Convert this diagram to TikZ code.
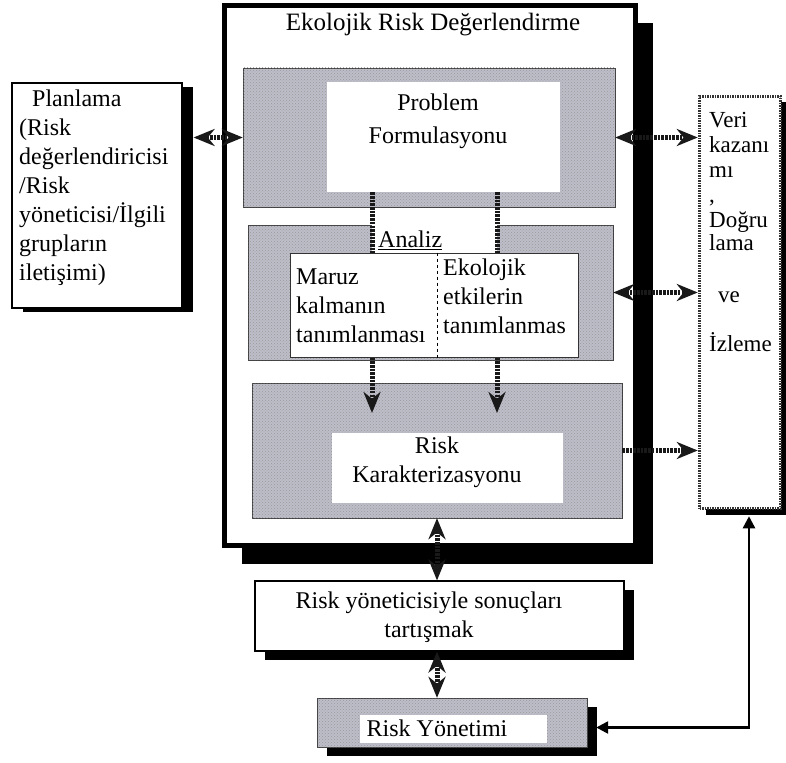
\documentclass[tikz,border=0pt]{standalone}
\usepackage{fontspec}
\setmainfont{Liberation Serif}
\usetikzlibrary{arrows.meta,shadows,patterns}
\definecolor{boxgray}{RGB}{190,190,202}
\begin{document}
\begin{tikzpicture}[x=1pt,y=-1pt,font=\fontsize{24}{29}\selectfont]
\tikzstyle{panel}=[draw=black!75,fill=boxgray,postaction={pattern=crosshatch dots,pattern color=black!40}]
\tikzstyle{hole}=[fill=white,inner sep=0pt]
\tikzstyle{card}=[draw=black,fill=white,line width=1.2pt,inner sep=0pt]
\tikzstyle{shadowS}=[drop shadow={shadow xshift=10pt,shadow yshift=-9pt,opacity=1,fill=black}]
\tikzstyle{shadowP}=[drop shadow={shadow xshift=11pt,shadow yshift=-4pt,opacity=1,fill=black}]
\tikzstyle{shadowL}=[drop shadow={shadow xshift=17pt,shadow yshift=-18pt,opacity=1,fill=black}]
\tikzstyle{shadowV}=[drop shadow={shadow xshift=6pt,shadow yshift=-6pt,opacity=1,fill=black}]
\tikzstyle{hatch}=[line width=5pt,black!90,dash pattern=on 2.6pt off 1.1pt]
\tikzstyle{both}=[{Stealth[length=21pt,width=17pt]}-{Stealth[length=21pt,width=17pt]}]
\tikzstyle{ahead}=[-{Stealth[length=21pt,width=17pt]}]
\tikzstyle{link}=[line width=2.5pt,black,{Triangle[length=12pt,width=12pt]}-{Triangle[length=12pt,width=12pt]}]
\tikzstyle{lines}=[align=left,anchor=north west,inner sep=0pt]

\useasboundingbox (0,0) rectangle (786,762);

\node[card,shadowL,line width=5pt,minimum width=411,minimum height=540] (erd) at (430,275.5) {};
\node (title) at (433,25) {\fontsize{25}{29}\selectfont Ekolojik Risk Değerlendirme};

\node[panel,minimum width=372,minimum height=139] (probG) at (429,137.5) {};
\node[hole,minimum width=233,minimum height=110] (prob) at (443.5,137) {};
\node[align=center] (probT) at (438,121) {Problem\\[4pt]Formulasyonu};

\node[panel,minimum width=365,minimum height=135] (anaG) at (430.5,292.5) {};
\node[hole,minimum width=125,minimum height=28,anchor=north west] (anaP) at (372,225) {};
\node[anchor=west,inner sep=0pt] (anaL) at (378,240) {\underline{Analiz}};
\node[hole,draw=black!80,line width=1pt,minimum width=288,minimum height=104] (anaW) at (434,305) {};
\node[lines] (maruz) at (296,269) {Maruz\\kalmanın\\tanımlanması};
\node[lines] (etki) at (443,259) {Ekolojik\\etkilerin\\tanımlanmas};
\coordinate (div) at (437,0);
\draw[dashed,line width=1pt] (anaW.north -| div) -- (anaW.south -| div);

\node[panel,minimum width=370,minimum height=135] (rkG) at (437,450.5) {};
\node[hole,minimum width=231,minimum height=70] (rk) at (447.5,468) {};
\node[align=center] (rkT) at (437,462) {Risk\\Karakterizasyonu};

\node[card,shadowP,minimum width=170,minimum height=225] (plan) at (97,195.5) {};
\node[lines] (planT) at (19,90) {\hspace{13pt}Planlama\\(Risk\\değerlendiricisi\\/Risk\\yöneticisi/İlgili\\grupların\\iletişimi)};

\node[draw=black!80,fill=white,line width=3.5pt,dash pattern=on 1.5pt off 1pt,shadowV,minimum width=81,minimum height=412] (veri) at (740,302.5) {};
\node[lines,font=\fontsize{23}{25}\selectfont] (veriT) at (709,112) {Veri\\kazanı\\mı\\,\\Doğru\\[-2pt]lama\\[27pt]\hspace{9pt}ve\\[24pt]İzleme};

\node[card,shadowS,minimum width=369,minimum height=70] (ryb) at (439.5,616) {};
\node[align=center] (rybT) at (429,617) {Risk yöneticisiyle sonuçları\\tartışmak};

\node[panel,shadowS,minimum width=270,minimum height=49] (ryG) at (452,722.5) {};
\node[hole,minimum width=187,minimum height=28] (ry) at (453.5,729) {};
\node (ryT) at (437,728) {Risk Yönetimi};

\coordinate (planS) at ([xshift=11pt]plan.east);
\coordinate (lx) at (372,0);
\coordinate (rx) at (497,0);
\coordinate (endy) at (0,413);
\coordinate (veriS) at ([xshift=9pt,yshift=-6pt]veri.south);
\coordinate (ryE) at ([xshift=9pt,yshift=-5pt]ryG.east);

\path
  (planS |- probG.west) edge [hatch,both] (probG.west)
  (probG.east) edge [hatch,both] (probG.east -| veri.west)
  (anaG.east) edge [hatch,both] (anaG.east -| veri.west)
  (rkG.east) edge [hatch,ahead] (rkG.east -| veri.west)
  (prob.south -| lx) edge [hatch] (anaW.north -| lx)
  (prob.south -| rx) edge [hatch] (anaW.north -| rx)
  (anaW.south -| lx) edge [hatch,ahead] (lx |- endy)
  (anaW.south -| rx) edge [hatch,ahead] (rx |- endy)
  (rkG.south) edge [hatch,both] (rkG.south |- ryb.north)
  (rkG.south |- ryb.south) edge [hatch,both] (rkG.south |- ryG.north);
\draw[link] (ryE) -| (veriS);
\end{tikzpicture}
\end{document}
